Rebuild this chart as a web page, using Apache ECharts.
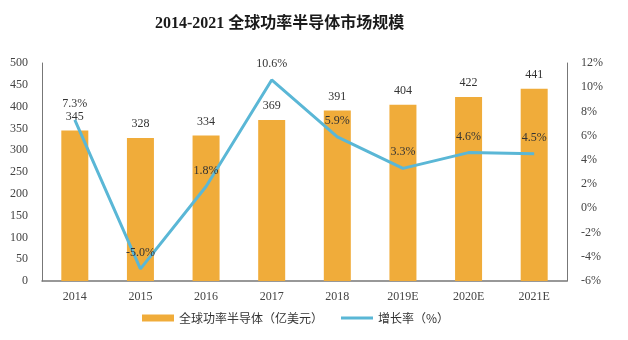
<!DOCTYPE html>
<html><head><meta charset="utf-8">
<script src="https://cdn.jsdelivr.net/npm/echarts@6/dist/echarts.min.js"></script>
<style>html,body{margin:0;padding:0;background:#fff}#c{width:628px;height:340px}</style>
</head><body><div id="c"></div>
<script>
const categories = ['2014','2015','2016','2017','2018','2019E','2020E','2021E'];
const marketSize = [345, 328, 334, 369, 391, 404, 422, 441];
const growthRate = [7.3, -5.0, 1.8, 10.6, 5.9, 3.3, 4.6, 4.5];
const barName = '全球功率半导体（亿美元）';
const lineName = '增长率（%）';

const serif = '"Liberation Serif", "Times New Roman", serif';
const chart = echarts.init(document.getElementById('c'));
chart.setOption({
  animation: false,
  backgroundColor: '#fff',
  title: {
    text: '2014-2021 全球功率半导体市场规模',
    left: 150, top: 11,
    textStyle: { fontFamily: '"Liberation Serif", "Noto Sans CJK SC", serif', fontWeight: 'bold', fontSize: 16, color: '#1a1a1a' }
  },
  legend: {
    left: 137, top: 307,
    itemGap: 18, itemWidth: 32, itemHeight: 7,
    textStyle: { fontFamily: '"Noto Sans CJK SC", sans-serif', fontSize: 12, color: '#333' },
    data: [
      { name: barName, icon: 'rect' },
      { name: lineName, icon: 'path://M0,0h32v3h-32z' }
    ]
  },
  grid: { left: 42, right: 61, top: 63, bottom: 59 },
  xAxis: {
    type: 'category', data: categories,
    axisLine: { lineStyle: { color: '#777', width: 1.5 } },
    axisTick: { show: false },
    axisLabel: { fontFamily: serif, fontSize: 12, color: '#444', margin: 10 }
  },
  yAxis: [
    { type: 'value', min: 0, max: 500, interval: 50,
      axisLine: { show: true, lineStyle: { color: '#777' } },
      axisTick: { show: false }, splitLine: { show: false },
      axisLabel: { fontFamily: serif, fontSize: 12, color: '#444', margin: 14 } },
    { type: 'value', min: -6, max: 12, interval: 2,
      axisLine: { show: true, lineStyle: { color: '#777' } },
      axisTick: { show: false }, splitLine: { show: false },
      axisLabel: { fontFamily: serif, fontSize: 12, color: '#444', margin: 14, formatter: '{value}%' } }
  ],
  series: [
    { name: barName, type: 'bar', data: marketSize, barWidth: 27,
      itemStyle: { color: '#F0AC3A' },
      label: { show: true, position: 'top', distance: 8, fontFamily: serif, fontSize: 12, color: '#333' } },
    { name: lineName, type: 'line', yAxisIndex: 1, data: growthRate,
      symbol: 'circle', symbolSize: 0.1,
      lineStyle: { color: '#5AB7D6', width: 3 }, itemStyle: { color: '#5AB7D6' },
      label: { show: true, position: 'top', distance: 10, fontFamily: serif, fontSize: 12, color: '#333',
        formatter: p => p.value.toFixed(1) + '%' } }
  ]
});
</script></body></html>
